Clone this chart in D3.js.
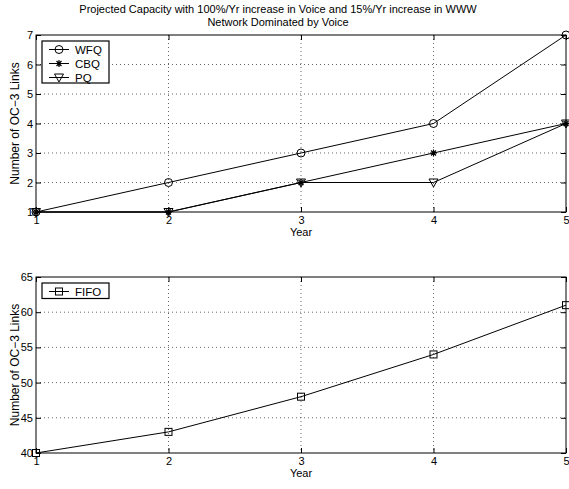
<!DOCTYPE html>
<html><head><meta charset="utf-8">
<script src="https://cdn.jsdelivr.net/npm/d3@7"></script>
<style>body{margin:0;background:#fff}svg{display:block}text{font-family:"Liberation Sans",Arial,sans-serif;fill:#000}</style>
</head><body>
<svg id="c" width="569" height="489"></svg>
<script>
const years = [1, 2, 3, 4, 5];
const wfq = [1, 2, 3, 4, 7];
const cbq = [1, 1, 2, 3, 4];
const pq = [1, 1, 2, 2, 4];
const fifo = [40, 43, 48, 54, 61];
const topYTicks = [1, 2, 3, 4, 5, 6, 7];
const botYTicks = [40, 45, 50, 55, 60, 65];
const titleLines = ["Projected Capacity with 100%/Yr increase in Voice and 15%/Yr increase in WWW", "Network Dominated by Voice"];

const svg = d3.select("#c");
svg.append("rect").attr("width",569).attr("height",489).attr("fill","#fff");

titleLines.forEach((t,i)=>svg.append("text").attr("x",278).attr("y",13+i*13).attr("text-anchor","middle").attr("font-size",11).text(t));

function marker(g, type, x, y){
  if(type==="circle") g.append("circle").attr("cx",x).attr("cy",y).attr("r",4).attr("fill","none").attr("stroke","#000");
  else if(type==="square") g.append("rect").attr("x",x-3.5).attr("y",y-3.5).attr("width",7).attr("height",7).attr("fill","none").attr("stroke","#000");
  else if(type==="tri") g.append("path").attr("d",`M${x-4.5},${y-3.5}L${x+4.5},${y-3.5}L${x},${y+4.5}Z`).attr("fill","none").attr("stroke","#000");
  else if(type==="star"){
    const r=3.5, p=[];
    for(let k=0;k<4;k++){const a=k*Math.PI/4;p.push(`M${x-r*Math.cos(a)},${y-r*Math.sin(a)}L${x+r*Math.cos(a)},${y+r*Math.sin(a)}`);}
    g.append("path").attr("d",p.join("")).attr("stroke","#000").attr("stroke-width",1.2);
  }
}

function panel(top, bottom, ydom, yticks, series, legendBox){
  const L=36, R=566;
  const x = d3.scaleLinear().domain([1,5]).range([L,R]);
  const y = d3.scaleLinear().domain(ydom).range([bottom,top]);
  const g = svg.append("g");
  // grid
  g.append("g").selectAll("line").data(years.slice(1,-1)).join("line")
    .attr("x1",d=>x(d)).attr("x2",d=>x(d)).attr("y1",top).attr("y2",bottom)
    .attr("stroke","#000").attr("stroke-width",0.6).attr("stroke-dasharray","1,3");
  g.append("g").selectAll("line").data(yticks.slice(1,-1)).join("line")
    .attr("x1",L).attr("x2",R).attr("y1",d=>y(d)).attr("y2",d=>y(d))
    .attr("stroke","#000").attr("stroke-width",0.6).attr("stroke-dasharray","1,3");
  // axes
  const ax = d3.axisBottom(x).tickValues(years).tickFormat(d3.format("d")).tickSize(-5).tickPadding(4);
  const axT = d3.axisTop(x).tickValues(years).tickFormat("").tickSize(-5);
  const ay = d3.axisLeft(y).tickValues(yticks).tickFormat(d3.format("d")).tickSize(-5).tickPadding(3);
  const ayR = d3.axisRight(y).tickValues(yticks).tickFormat("").tickSize(-5);
  [[ax,`translate(0,${bottom})`],[axT,`translate(0,${top})`],[ay,`translate(${L},0)`],[ayR,`translate(${R},0)`]].forEach(([a,t])=>{
    const s=g.append("g").attr("transform",t).call(a);
    s.select(".domain").remove();
    s.selectAll("text").attr("font-size",11).attr("font-family","Liberation Sans, Arial, sans-serif");
    s.selectAll("line").attr("stroke","#000");
  });
  g.append("rect").attr("x",L).attr("y",top).attr("width",R-L).attr("height",bottom-top).attr("fill","none").attr("stroke","#000").attr("stroke-width",1);
  // labels
  g.append("text").attr("x",(L+R)/2).attr("y",bottom+24).attr("text-anchor","middle").attr("font-size",11).text("Year");
  g.append("text").attr("transform",`translate(19,${(top+bottom)/2}) rotate(-90)`).attr("text-anchor","middle").attr("font-size",12).text("Number of OC\u22123 Links");
  // series
  const line = d3.line().x((d,i)=>x(years[i])).y(d=>y(d));
  series.forEach(s=>{
    g.append("path").attr("d",line(s.values)).attr("fill","none").attr("stroke","#000").attr("stroke-width",1);
    s.values.forEach((v,i)=>marker(g,s.marker,x(years[i]),y(v)));
  });
  // legend
  const lb=legendBox;
  g.append("rect").attr("x",lb.x).attr("y",lb.y).attr("width",lb.w).attr("height",lb.h).attr("fill","#fff").attr("stroke","#000").attr("stroke-width",1.2);
  series.forEach((s,i)=>{
    const yy=lb.y+8.5+i*14;
    g.append("line").attr("x1",lb.x+7).attr("x2",lb.x+27).attr("y1",yy).attr("y2",yy).attr("stroke","#000");
    marker(g,s.marker,lb.x+17,yy);
    g.append("text").attr("x",lb.x+33).attr("y",yy+4).attr("font-size",11.5).text(s.name);
  });
}

panel(35, 212, [1,7], topYTicks, [
  {name:"WFQ", values:wfq, marker:"circle"},
  {name:"CBQ", values:cbq, marker:"star"},
  {name:"PQ", values:pq, marker:"tri"}
], {x:42,y:41,w:67,h:42});

panel(277, 453, [40,65], botYTicks, [
  {name:"FIFO", values:fifo, marker:"square"}
], {x:42,y:283,w:67,h:15.5});
</script>
</body></html>
